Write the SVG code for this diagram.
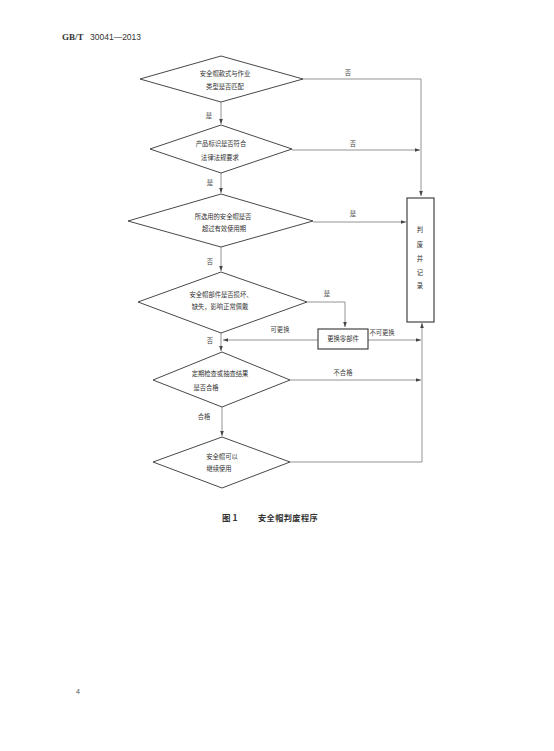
<svg xmlns="http://www.w3.org/2000/svg" width="554" height="751" viewBox="0 0 554 751">
<style>
.d{fill:#fff;stroke:#333;stroke-width:0.9}
.b{fill:#fff;stroke:#333;stroke-width:1.1}
.c{fill:none;stroke:#888;stroke-width:0.9}
.t{font-family:"Noto Sans CJK SC",sans-serif;font-size:6.3px;fill:#333;text-anchor:middle}
.l{font-family:"Noto Sans CJK SC",sans-serif;font-size:6.3px;fill:#444;text-anchor:middle}
</style>
<defs>
<marker id="a" markerWidth="6" markerHeight="6" refX="5" refY="3" orient="auto" markerUnits="userSpaceOnUse">
<path d="M0,1.2 L5,3 L0,4.8 Z" fill="#444"/>
</marker>
</defs>
<rect width="554" height="751" fill="#fff"/>
<text x="62" y="40" font-family="Liberation Serif,serif" font-weight="bold" font-size="9" fill="#333">GB/T</text>
<text x="90" y="40" font-family="Liberation Sans,sans-serif" font-size="8.5" fill="#333">30041—2013</text>

<g id="connectors">
<path class="c" d="M303,79 H421 V196" marker-end="url(#a)"/>
<path class="c" d="M292,150 H420" marker-end="url(#a)"/>
<path class="c" d="M313,222 H406" marker-end="url(#a)"/>
<path class="c" d="M221,102 V124" marker-end="url(#a)"/>
<path class="c" d="M221,173 V193" marker-end="url(#a)"/>
<path class="c" d="M221,247 V271" marker-end="url(#a)"/>
<path class="c" d="M307,302 H345 V327" marker-end="url(#a)"/>
<path class="c" d="M221,333 V351" marker-end="url(#a)"/>
<path class="c" d="M318,340 H223" marker-end="url(#a)"/>
<path class="c" d="M368,340 H421" marker-end="url(#a)"/>
<path class="c" d="M290,380 H421" marker-end="url(#a)"/>
<path class="c" d="M222,407 V436" marker-end="url(#a)"/>
<path class="c" d="M290,462 H422 V323" marker-end="url(#a)"/>
<text class="l" x="348" y="75">否</text>
<text class="l" x="209" y="118">是</text>
<text class="l" x="353" y="146">否</text>
<text class="l" x="210" y="185">是</text>
<text class="l" x="353" y="216">是</text>
<text class="l" x="210" y="264">否</text>
<text class="l" x="327" y="296">是</text>
<text class="l" x="280" y="332">可更换</text>
<text class="l" x="210" y="343">否</text>
<text class="l" x="382" y="335">不可更换</text>
<text class="l" x="343" y="375">不合格</text>
<text class="l" x="204" y="419">合格</text>
</g>

<g id="n1">
<polygon class="d" points="221,56 303,79 221,102 140,79"/>
<text class="t" x="225" y="76">安全帽款式与作业</text>
<text class="t" x="225" y="89">类型是否匹配</text>
</g>
<g id="n2">
<polygon class="d" points="221,125 292,149 221,173 150,149"/>
<text class="t" x="221" y="146">产品标识是否符合</text>
<text class="t" x="220" y="160">法律法规要求</text>
</g>
<g id="n3">
<polygon class="d" points="221,194 313,221 221,247 128,221"/>
<text class="t" x="223" y="219">所选用的安全帽是否</text>
<text class="t" x="224" y="231">超过有效使用期</text>
</g>
<g id="n4">
<polygon class="d" points="221,272 307,302 221,333 138,302"/>
<text class="t" x="221" y="297">安全帽部件是否损坏、</text>
<text class="t" x="220" y="309">缺失，影响正常佩戴</text>
</g>
<g id="n5">
<rect class="b" x="318" y="329" width="50" height="20"/>
<text class="t" x="343" y="341">更换零部件</text>
</g>
<g id="n6">
<polygon class="d" points="222,352 290,380 222,407 153,380"/>
<text class="t" x="220" y="376">定期检查或抽查结果</text>
<text class="t" x="206" y="390">是否合格</text>
</g>
<g id="n7">
<polygon class="d" points="222,437 290,462 222,488 153,462"/>
<text class="t" x="222" y="459">安全帽可以</text>
<text class="t" x="219" y="471">继续使用</text>
</g>
<g id="n8">
<rect class="b" x="407" y="198" width="27" height="124"/>
<text class="t" x="420" y="232">判</text>
<text class="t" x="420" y="247">废</text>
<text class="t" x="420" y="261">并</text>
<text class="t" x="420" y="275">记</text>
<text class="t" x="420" y="288">录</text>
</g>

<text x="222" y="521" font-family="Noto Sans CJK SC,sans-serif" font-size="8.5" font-weight="bold" fill="#333">图 1</text>
<text x="258" y="521" font-family="Noto Sans CJK SC,sans-serif" font-size="8.2" font-weight="bold" letter-spacing="0.4" fill="#333">安全帽判废程序</text>
<text x="76" y="694" font-family="Liberation Sans,sans-serif" font-size="7" fill="#555">4</text>
</svg>
